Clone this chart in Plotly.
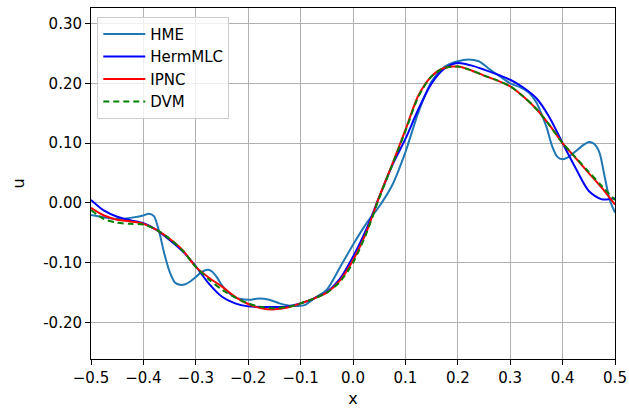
import plotly.graph_objects as go

# ---- data ----
hme_x = [-0.5, -0.475, -0.45, -0.425, -0.4, -0.39, -0.38, -0.37, -0.36, -0.35, -0.34, -0.33, -0.32,
         -0.31, -0.3, -0.29, -0.28, -0.27, -0.26, -0.25, -0.24, -0.225, -0.2, -0.18, -0.16, -0.14,
         -0.12, -0.1, -0.09, -0.075, -0.05, -0.025, 0.0, 0.025, 0.05, 0.075, 0.1, 0.125, 0.15,
         0.175, 0.2, 0.22, 0.24, 0.26, 0.28, 0.3, 0.32, 0.335, 0.35, 0.36, 0.37, 0.38, 0.39, 0.4,
         0.41, 0.42, 0.43, 0.44, 0.45, 0.46, 0.47, 0.48, 0.49, 0.5]
hme_u = [-0.02, -0.024, -0.027, -0.025, -0.021, -0.018, -0.022, -0.048, -0.085, -0.115, -0.133,
         -0.137, -0.136, -0.131, -0.124, -0.116, -0.112, -0.114, -0.124, -0.138, -0.148, -0.158,
         -0.162, -0.16, -0.162, -0.168, -0.172, -0.172, -0.17, -0.16, -0.145, -0.108, -0.07,
         -0.035, -0.006, 0.03, 0.085, 0.152, 0.203, 0.228, 0.237, 0.24, 0.237, 0.224, 0.212, 0.2,
         0.193, 0.185, 0.168, 0.148, 0.125, 0.095, 0.077, 0.073, 0.076, 0.083, 0.09, 0.097, 0.102,
         0.099, 0.085, 0.045, 0.005, -0.016]

grid_x = [-0.5, -0.475, -0.45, -0.425, -0.4, -0.375, -0.35, -0.325, -0.3, -0.275, -0.25, -0.225,
          -0.2, -0.175, -0.15, -0.125, -0.1, -0.075, -0.05, -0.025, 0.0, 0.025, 0.05, 0.075, 0.1,
          0.125, 0.15, 0.175, 0.2, 0.225, 0.25, 0.275, 0.3, 0.325, 0.35, 0.375, 0.4, 0.425, 0.45,
          0.475, 0.5]

herm_u = [0.005, -0.013, -0.023, -0.029, -0.034, -0.045, -0.062, -0.081, -0.106, -0.135, -0.157,
          -0.168, -0.173, -0.174, -0.174, -0.173, -0.168, -0.16, -0.149, -0.127, -0.09, -0.045,
          0.01, 0.063, 0.107, 0.157, 0.2, 0.225, 0.234, 0.23, 0.223, 0.215, 0.206, 0.193, 0.175,
          0.143, 0.1, 0.058, 0.02, 0.006, 0.008]

ipnc_u = [-0.008, -0.021, -0.028, -0.031, -0.035, -0.045, -0.06, -0.079, -0.107, -0.125, -0.14,
          -0.157, -0.169, -0.176, -0.178, -0.175, -0.168, -0.16, -0.15, -0.13, -0.096, -0.05,
          0.01, 0.065, 0.122, 0.18, 0.212, 0.226, 0.228, 0.222, 0.213, 0.205, 0.195, 0.178, 0.157,
          0.13, 0.1, 0.075, 0.05, 0.025, -0.003]

dvm_u = [-0.012, -0.027, -0.033, -0.035, -0.036, -0.045, -0.06, -0.08, -0.107, -0.128, -0.145,
         -0.158, -0.168, -0.174, -0.176, -0.174, -0.168, -0.16, -0.15, -0.132, -0.1, -0.052,
         0.008, 0.064, 0.12, 0.178, 0.212, 0.226, 0.228, 0.222, 0.213, 0.205, 0.195, 0.178, 0.157,
         0.13, 0.1, 0.076, 0.052, 0.028, 0.005]

x_ticks = [-0.5, -0.4, -0.3, -0.2, -0.1, 0.0, 0.1, 0.2, 0.3, 0.4, 0.5]
x_tick_text = ["\u22120.5", "\u22120.4", "\u22120.3", "\u22120.2", "\u22120.1", "0.0", "0.1",
               "0.2", "0.3", "0.4", "0.5"]
y_ticks = [-0.2, -0.1, 0.0, 0.1, 0.2, 0.3]
y_tick_text = ["-0.20", "-0.10", "0.00", "0.10", "0.20", "0.30"]

fig = go.Figure()
fig.add_trace(go.Scatter(x=hme_x, y=hme_u, mode="lines", name="HME",
                         line=dict(color="#1f77b4", width=2, shape="spline", smoothing=0.8)))
fig.add_trace(go.Scatter(x=grid_x, y=herm_u, mode="lines", name="HermMLC",
                         line=dict(color="#0000ff", width=2, shape="spline", smoothing=0.8)))
fig.add_trace(go.Scatter(x=grid_x, y=ipnc_u, mode="lines", name="IPNC",
                         line=dict(color="#ff0000", width=2, shape="spline", smoothing=0.8)))
fig.add_trace(go.Scatter(x=grid_x, y=dvm_u, mode="lines", name="DVM",
                         line=dict(color="#008000", width=2, dash="6px,4px", shape="spline",
                                   smoothing=0.8)))

axis_common = dict(showgrid=True, gridcolor="#b0b0b0", gridwidth=1, showline=True,
                   linecolor="black", linewidth=1, mirror=True, ticks="outside", ticklen=5,
                   tickcolor="black", zeroline=False, automargin=False,
                   tickfont=dict(family="DejaVu Sans", size=15, color="black"))

fig.update_layout(
    width=629, height=409,
    margin=dict(l=91, r=14, t=8, b=50, autoexpand=False),
    paper_bgcolor="white", plot_bgcolor="white",
    font=dict(family="DejaVu Sans", size=15, color="black"),
    xaxis=dict(range=[-0.5, 0.5], tickvals=x_ticks, ticktext=x_tick_text,
               title=dict(text="x", font=dict(size=16), standoff=6), **axis_common),
    yaxis=dict(range=[-0.261, 0.326], tickvals=y_ticks, ticktext=y_tick_text,
               title=dict(text="u", font=dict(size=16), standoff=14), **axis_common),
    legend=dict(x=0.012, y=0.975, xanchor="left", yanchor="top", bgcolor="rgba(255,255,255,0.8)",
                bordercolor="#cccccc", borderwidth=1, font=dict(size=15), tracegroupgap=0,
                itemwidth=42),
    showlegend=True,
)

fig.write_html("out.html")
